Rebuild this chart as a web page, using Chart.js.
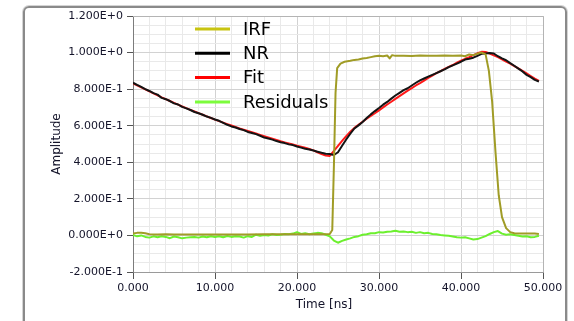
<!DOCTYPE html>
<html>
<head>
<meta charset="utf-8">
<script src="https://cdn.jsdelivr.net/npm/chart.js@4"></script>
<style>
  html, body { margin: 0; padding: 0; background: #fff; }
  #wrap { position: relative; width: 574px; height: 321px; overflow: hidden; }
  #frame {
    position: absolute; left: 23px; top: 6px; width: 544px; height: 340px;
    border: 2px solid #8a8a8a; border-radius: 6px; box-sizing: border-box;
    box-shadow: 0 0 0 1px #d4d4d4; pointer-events: none;
  }
  canvas { position: absolute; left: 0; top: 0; }
</style>
</head>
<body>
<div id="wrap">
  <canvas id="decay" width="574" height="321"></canvas>
  <div id="frame"></div>
</div>
<script>
const seriesNames = ["IRF", "NR", "Fit", "Residuals"];
const xTitle = "Time [ns]";
const yTitle = "Amplitude";

// common time grid for NR, Fit and Residuals (ns)
const time = [
  0, 0.5, 1, 1.5, 2, 2.5, 3, 3.5, 4, 4.5,
  5, 5.5, 6, 6.5, 7, 7.5, 8, 8.5, 9, 9.5,
  10, 10.5, 11, 11.5, 12, 12.5, 13, 13.5, 14, 14.5,
  15, 15.5, 16, 16.5, 17, 17.5, 18, 18.5, 19, 19.5,
  20, 20.5, 21, 21.5, 22, 22.5, 23, 23.5, 24, 24.5,
  25, 25.5, 26, 26.5, 27, 27.5, 28, 28.5, 29, 29.5,
  30, 30.5, 31, 31.5, 32, 32.5, 33, 33.5, 34, 34.5,
  35, 35.5, 36, 36.5, 37, 37.5, 38, 38.5, 39, 39.5,
  40, 40.5, 41, 41.5, 42, 42.5, 43, 43.5, 44, 44.5,
  45, 45.5, 46, 46.5, 47, 47.5, 48, 48.5, 49, 49.5
];

const nr = [
  0.835, 0.823, 0.812, 0.800, 0.790, 0.778, 0.770, 0.752, 0.745, 0.735,
  0.722, 0.716, 0.703, 0.695, 0.686, 0.675, 0.668, 0.660, 0.650, 0.643,
  0.634, 0.627, 0.616, 0.605, 0.596, 0.590, 0.582, 0.576, 0.566, 0.560,
  0.554, 0.545, 0.535, 0.530, 0.524, 0.516, 0.510, 0.505, 0.498, 0.494,
  0.486, 0.480, 0.474, 0.470, 0.464, 0.458, 0.452, 0.447, 0.445, 0.440,
  0.455, 0.490, 0.525, 0.556, 0.585, 0.602, 0.620, 0.642, 0.662, 0.680,
  0.697, 0.715, 0.730, 0.748, 0.765, 0.780, 0.795, 0.805, 0.820, 0.835,
  0.848, 0.858, 0.868, 0.878, 0.888, 0.898, 0.908, 0.920, 0.930, 0.940,
  0.950, 0.962, 0.966, 0.972, 0.982, 0.993, 0.995, 0.997, 0.995, 0.980,
  0.968, 0.958, 0.942, 0.928, 0.912, 0.897, 0.878, 0.866, 0.851, 0.842
];

const fit = [
  0.832, 0.821, 0.810, 0.799, 0.788, 0.777, 0.766, 0.755, 0.745, 0.735,
  0.725, 0.715, 0.705, 0.696, 0.687, 0.678, 0.669, 0.660, 0.651, 0.642,
  0.633, 0.625, 0.617, 0.609, 0.601, 0.593, 0.585, 0.578, 0.571, 0.564,
  0.557, 0.550, 0.543, 0.536, 0.529, 0.522, 0.515, 0.509, 0.503, 0.497,
  0.491, 0.485, 0.479, 0.473, 0.465, 0.455, 0.445, 0.437, 0.435, 0.462,
  0.490, 0.517, 0.543, 0.567, 0.588, 0.605, 0.622, 0.638, 0.653, 0.668,
  0.684, 0.700, 0.716, 0.731, 0.747, 0.762, 0.777, 0.792, 0.806, 0.820,
  0.833, 0.847, 0.861, 0.874, 0.887, 0.899, 0.911, 0.922, 0.932, 0.945,
  0.956, 0.966, 0.975, 0.986, 0.996, 1.004, 1.003, 0.995, 0.985, 0.975,
  0.963, 0.951, 0.939, 0.926, 0.913, 0.900, 0.886, 0.872, 0.858, 0.845
];

const residuals = [
  0.002, -0.005, 0.000, -0.008, -0.012, -0.005, -0.010, -0.004, -0.008, -0.015,
  -0.006, -0.010, -0.016, -0.012, -0.010, -0.008, -0.012, -0.006, -0.010, -0.004,
  -0.009, -0.005, -0.010, -0.003, -0.008, -0.004, -0.006, -0.012, -0.004, -0.008,
  0.004, -0.002, 0.002, 0.000, 0.006, 0.002, 0.004, 0.008, 0.006, 0.010,
  0.018, 0.008, 0.012, 0.006, 0.010, 0.014, 0.012, 0.004, -0.005, -0.028,
  -0.040, -0.030, -0.022, -0.016, -0.008, -0.004, 0.004, 0.006, 0.012, 0.012,
  0.018, 0.016, 0.020, 0.022, 0.026, 0.020, 0.022, 0.018, 0.020, 0.014,
  0.018, 0.012, 0.014, 0.008, 0.006, 0.002, 0.000, -0.002, -0.006, -0.010,
  -0.012, -0.010, -0.016, -0.022, -0.020, -0.012, -0.004, 0.008, 0.018, 0.024,
  0.010, 0.004, 0.006, 0.002, -0.002, -0.006, -0.004, -0.010, -0.008, -0.002
];

// IRF is sampled more densely around its edges
const irfTime = [
  0, 0.5, 1, 1.5, 2, 3, 4, 5, 6, 8,
  10, 12, 14, 16, 18, 20, 22, 23, 24, 24.3,
  24.5, 24.7, 24.9, 25.3, 25.8, 26.5, 27, 27.5, 28, 28.5,
  29, 29.5, 30, 30.5, 31, 31.3, 31.6, 32, 33, 34,
  35, 36, 37, 38, 39, 40, 40.5, 41, 41.5, 42,
  42.5, 43, 43.4, 43.8, 44.2, 44.6, 45, 45.5, 46, 46.5,
  47, 48, 49, 49.5
];
const irf = [
  0.010, 0.014, 0.015, 0.012, 0.006, 0.005, 0.006, 0.005, 0.005, 0.005,
  0.005, 0.005, 0.005, 0.006, 0.006, 0.006, 0.007, 0.007, 0.008, 0.030,
  0.380, 0.780, 0.915, 0.940, 0.950, 0.955, 0.960, 0.962, 0.968, 0.970,
  0.975, 0.980, 0.982, 0.980, 0.984, 0.968, 0.986, 0.982, 0.983, 0.981,
  0.984, 0.983, 0.982, 0.984, 0.982, 0.984, 0.980, 0.990, 0.986, 0.994,
  1.000, 0.990, 0.900, 0.730, 0.460, 0.220, 0.100, 0.040, 0.018, 0.012,
  0.010, 0.010, 0.010, 0.008
];

const toPoints = (xs, ys) => xs.map((x, i) => ({ x, y: ys[i] }));

function sci(v) {
  v = Math.round(v * 1000) / 1000;
  if (v === 0) return "0.000E+0";
  const e = Math.floor(Math.log10(Math.abs(v)) + 1e-9);
  const m = v / Math.pow(10, e);
  return m.toFixed(3) + "E" + (e >= 0 ? "+" : "") + e;
}
const majorY = (v) => Math.abs(v * 5 - Math.round(v * 5)) < 1e-6;
const majorX = (v) => Math.abs(v / 10 - Math.round(v / 10)) < 1e-6;

const tickFont = { family: "DejaVu Sans", size: 11 };
const textColor = "#14142a";

// axis titles, plot frame and the in-plot legend
const decor = {
  id: "decor",
  afterDraw(chart) {
    const { ctx, chartArea: a } = chart;
    ctx.save();
    ctx.strokeStyle = "#b4b4b4";
    ctx.lineWidth = 1;
    ctx.beginPath();
    ctx.moveTo(a.left, a.top + 0.5);
    ctx.lineTo(a.right + 0.5, a.top + 0.5);
    ctx.lineTo(a.right + 0.5, a.bottom);
    ctx.stroke();

    ctx.fillStyle = textColor;
    ctx.font = '12px "DejaVu Sans"';
    ctx.textAlign = "center";
    ctx.textBaseline = "middle";
    ctx.fillText(xTitle, (a.left + a.right) / 2 - 14, 305);
    ctx.save();
    ctx.translate(57, (a.top + a.bottom) / 2);
    ctx.rotate(-Math.PI / 2);
    ctx.fillText(yTitle, 0, 0);
    ctx.restore();

    ctx.font = '18px "DejaVu Sans"';
    ctx.textAlign = "left";
    chart.data.datasets.forEach((ds, i) => {
      const y = a.top + 13 + i * 24.3;
      ctx.strokeStyle = ds.legendColor;
      ctx.lineWidth = 3;
      ctx.beginPath();
      ctx.moveTo(a.left + 62, y);
      ctx.lineTo(a.left + 97, y);
      ctx.stroke();
      ctx.fillStyle = "#000";
      ctx.fillText(ds.label, a.left + 110, y + 1);
    });
    ctx.restore();
  },
};

new Chart(document.getElementById("decay"), {
  type: "line",
  data: {
    datasets: [
      {
        label: seriesNames[0],
        data: toPoints(irfTime, irf),
        borderColor: "#a09c26",
        legendColor: "#c8c410",
        borderWidth: 2,
      },
      {
        label: seriesNames[1],
        data: toPoints(time, nr),
        borderColor: "#141414",
        legendColor: "#000000",
        borderWidth: 2,
      },
      {
        label: seriesNames[2],
        data: toPoints(time, fit),
        borderColor: "#ff1a1a",
        legendColor: "#ff0000",
        borderWidth: 2,
      },
      {
        label: seriesNames[3],
        data: toPoints(time, residuals),
        borderColor: "#6cf02e",
        legendColor: "#7cfc3c",
        borderWidth: 2,
      },
    ],
  },
  options: {
    responsive: false,
    animation: false,
    devicePixelRatio: 1,
    layout: { padding: { left: 0, top: 16, right: 31, bottom: 0 } },
    elements: {
      point: { radius: 0 },
      line: { tension: 0, borderJoinStyle: "round" },
    },
    plugins: {
      legend: { display: false },
      tooltip: { enabled: false },
    },
    scales: {
      x: {
        type: "linear",
        min: 0,
        max: 50,
        afterFit(scale) {
          scale.height = 49;
        },
        border: { color: "#9a9a9a" },
        grid: {
          color: (c) => (majorX(c.tick.value) ? "#d2d2d2" : "#e9e9e9"),
          tickColor: (c) => (majorX(c.tick.value) ? "#555" : "rgba(0,0,0,0)"),
          tickLength: 7,
        },
        ticks: {
          stepSize: 2,
          autoSkip: false,
          maxRotation: 0,
          padding: 3,
          font: tickFont,
          color: textColor,
          callback: (v) => (majorX(v) ? Number(v).toFixed(3) : ""),
        },
      },
      y: {
        min: -0.2,
        max: 1.2,
        afterFit(scale) {
          scale.width = 133;
        },
        border: { color: "#7c7c7c" },
        grid: {
          color: (c) => (majorY(c.tick.value) ? "#d2d2d2" : "#e9e9e9"),
          tickColor: (c) => (majorY(c.tick.value) ? "#555" : "rgba(0,0,0,0)"),
          tickLength: 6,
        },
        ticks: {
          stepSize: 0.05,
          autoSkip: false,
          padding: 4,
          font: tickFont,
          color: textColor,
          callback: (v) => (majorY(v) ? sci(v) : ""),
        },
      },
    },
  },
  plugins: [decor],
});
</script>
</body>
</html>
